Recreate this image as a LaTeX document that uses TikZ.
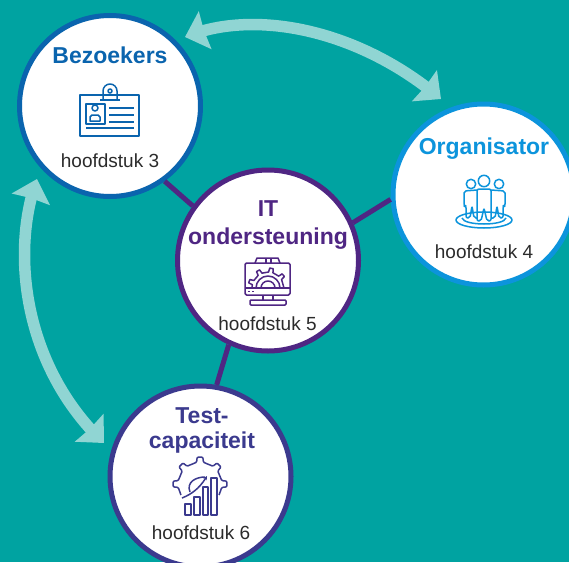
\documentclass[tikz,border=0pt]{standalone}
\usepackage{fontspec}
\setmainfont{Liberation Sans}
\usetikzlibrary{arrows.meta, bending}
\definecolor{bgColor}{HTML}{00A3A1}
\definecolor{arrowColor}{HTML}{90D5D3}
\definecolor{bezColor}{HTML}{0A64AE}
\definecolor{orgColor}{HTML}{0C94DC}
\definecolor{itColor}{HTML}{4F2683}
\definecolor{testColor}{HTML}{3B3A8E}
\definecolor{textColor}{HTML}{2B2B2B}

\begin{document}
\begin{tikzpicture}[
  x=1pt, y=-1pt,
  bubble/.style={
    circle,
    draw,
    fill=white,
    line width=5pt,
    minimum size=181pt,
    inner sep=0pt
  },
  title/.style={
    inner sep=0pt,
    align=center,
    font=\fontsize{23}{25}\selectfont\bfseries
  },
  chapter/.style={
    anchor=base,
    inner sep=0pt,
    text=textColor,
    font=\fontsize{19}{22}\selectfont
  },
  link/.style={
    draw=itColor,
    line width=5pt
  },
  swing/.style={
    {Stealth[length=21pt,width=39pt,inset=1pt,flex]}-{Stealth[length=21pt,width=39pt,inset=1pt,flex]},
    draw=arrowColor,
    fill=none,
    line width=11.5pt
  },
  icon/.style={
    line width=1.5pt,
    line join=round
  }
]
  \useasboundingbox (0,0) rectangle (569,562);
  \clip (0,0) rectangle (569,562);
  \fill[bgColor] (0,0) rectangle (569,562);

  % Circles
  \node[bubble, draw=bezColor] (bez) at (110,106) {};
  \node[bubble, draw=orgColor] (org) at (483.5,194.5) {};
  \node[bubble, draw=itColor] (it) at (268,260.5) {};
  \node[bubble, draw=testColor] (test) at (200.5,476.5) {};

  % Connect circles
  \draw[link] (bez.-54) -- (it.144);
  \draw[link] (org.183) -- (it.24);
  \draw[link] (it.245) -- (test.80);

  % Curved arrows
  \coordinate (bezTop) at (185,37);
  \coordinate (orgTop) at (441,99);
  \coordinate (bezLow) at (37,179);
  \coordinate (testLeft) at (104,443);
  \draw[swing] (bezTop) .. controls (255,8) and (360,30) .. (orgTop);
  \draw[swing] (bezLow) .. controls (11,250) and (22,365) .. (testLeft);

  % Labels
  \node[title, text=bezColor] (bezTitle) at (110,55.5) {Bezoekers};
  \node[chapter] (bezChap) at (110,167) {hoofdstuk 3};
  \node[title, text=orgColor] (orgTitle) at (484,149) {Organisator};
  \node[chapter] (orgChap) at (484,258) {hoofdstuk 4};
  \node[title, text=itColor] (itTitle) at (268,225) {IT\\[3pt]ondersteuning};
  \node[chapter] (itChap) at (267.5,330) {hoofdstuk 5};
  \node[title, text=testColor] (testTitle) at (202,430) {Test-\\capaciteit};
  \node[chapter] (testChap) at (201,539) {hoofdstuk 6};

  % Badge icon
  \begin{scope}[icon, draw=bezColor]
    \draw (80,95) rectangle (139,136);
    \draw (86,104) rectangle (105,124);
    \draw (100,100) -- (120,100);
    \draw (103,100) -- (103,91) arc (180:360:7) -- (117,100);
    \draw (110,91) circle (2);
    \draw (95,108) circle (3);
    \draw (90,121) -- (90,117) -- (92,115) -- (98,115) -- (100,117) -- (100,121) -- cycle;
    \foreach \y in {108,115,122}
      \draw (109,\y) -- (134,\y);
    \draw (86,128) -- (134,128);
  \end{scope}

  % People icon
  \begin{scope}[icon, draw=orgColor]
    \draw (484,181) circle (5.7);
    \draw (471,184) circle (4.7);
    \draw (499,184) circle (4.7);
    \draw[rounded corners=2pt] (477,221) -- (477,189) -- (491,189) -- (491,221) -- (487,221) -- (484,208) -- (481,221) -- cycle;
    \draw[rounded corners=2pt] (477,190) -- (464,191) -- (464,206) -- (466,206) -- (466,218) -- (470,218) -- (472,206) -- (474,218) -- (477,218);
    \draw[rounded corners=2pt] (491,190) -- (505,191) -- (505,206) -- (503,206) -- (503,218) -- (499,218) -- (497,206) -- (495,218) -- (491,218);
    \draw (484,220) ellipse (28 and 8);
    \draw (462,218) .. controls (464,226) and (504,226) .. (506,218);
  \end{scope}

  % Monitor icon
  \begin{scope}[icon, draw=itColor]
    \draw[rounded corners=1.5pt] (245,263) rectangle (290,295);
    \draw (255,263) -- (257,258) -- (278,258) -- (280,263);
    \draw (266,258) -- (266,263) (271,258) -- (271,263);
    \draw (245,288) -- (290,288);
    \draw (248,291.5) -- (249.5,291.5) (252,291.5) -- (253.5,291.5);
    \draw (263,295) -- (263,300) (273,295) -- (273,300);
    \draw[rounded corners=1pt] (250,300) rectangle (286,305);
    \draw[shift={(268,288)}] (180:16) \foreach \a in {200,240,...,340} { -- (\a-8:16) -- (\a-5:20) -- (\a+5:20) -- (\a+8:16) } -- (360:16);
    \draw (256,288) arc (180:360:12);
    \draw (261,288) arc (180:360:7);
  \end{scope}

  % Gear icon
  \begin{scope}[icon, draw=testColor]
    \draw[shift={(200,484)}, rounded corners=1pt] (150:22) \foreach \a in {180,225,...,360} { -- (\a-9:22) -- (\a-6:27) -- (\a+6:27) -- (\a+9:22) } -- (390:22);
    \draw (185,504) rectangle (191,515);
    \draw (194,497) rectangle (200,515);
    \draw (203,487) rectangle (208,515);
    \draw (211,478) rectangle (217,515);
    \draw[-{Stealth[length=4pt,width=4pt]}] (182,498) .. controls (192,494) and (200,488) .. (207,476);
    \draw (190,492) .. controls (186,482) and (196,477) .. (205,477);
  \end{scope}
\end{tikzpicture}
\end{document}
